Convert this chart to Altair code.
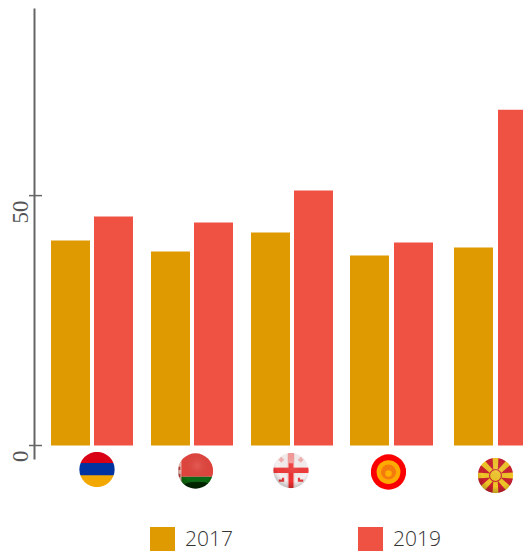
import base64
import altair as alt
import pandas as pd

countries = ["Armenia", "Belarus", "Georgia", "Kyrgyzstan", "North Macedonia"]
values_2017 = [41, 38.8, 42.6, 38, 39.6]
values_2019 = [45.8, 44.6, 51, 40.6, 67.2]
series = ["2017", "2019"]
tick_values = [0, 50]

# layout nudges (pixels) of the original, which is not evenly spaced
bar_dx = {"2017": [-21.5, -21.5, -21.5, -22.5, -18.5], "2019": [21.5, 21.5, 21.5, 21.5, 25.5]}
flag_dx = [5, 3.5, -1, -3.5, 3.5]
flag_dy = [24, 25.5, 25, 26.5, 30]


def svg_uri(body):
    svg = (
        '<svg xmlns="http://www.w3.org/2000/svg" width="72" height="72" viewBox="0 0 100 100">'
        '<defs><clipPath id="c"><circle cx="50" cy="50" r="49"/></clipPath>'
        '<filter id="b"><feGaussianBlur stdDeviation="1.6"/></filter>'
        '<radialGradient id="g" cx="55%" cy="35%" r="65%"><stop offset="0" stop-color="#fff" stop-opacity=".12"/>'
        '<stop offset=".7" stop-color="#000" stop-opacity="0"/><stop offset="1" stop-color="#000" stop-opacity=".22"/>'
        '</radialGradient></defs>'
        '<g clip-path="url(#c)"><g filter="url(#b)">' + body + "</g></g></svg>"
    )
    return "data:image/svg+xml;base64," + base64.b64encode(svg.encode()).decode()


rays = "".join(
    f'<polygon points="45,50 55,50 59,-10 41,-10" fill="#f0c528" transform="rotate({a} 50 50)"/>'
    for a in range(0, 360, 45)
)
shade = '<rect width="100" height="100" fill="url(#g)"/>'
flag_bodies = [
    '<rect width="100" height="34" fill="#d90012"/><rect y="32" width="100" height="36" fill="#0033a0"/>'
    '<rect y="66" width="100" height="34" fill="#f2a800"/>',
    '<rect width="100" height="66" fill="#e0443c"/><rect y="66" width="100" height="34" fill="#0f6a12"/>'
    '<rect width="11" height="100" fill="#e8b8b0"/>'
    '<rect x="3" y="18" width="5" height="9" fill="#b84040"/><rect x="3" y="38" width="5" height="9" fill="#b84040"/>'
    '<rect x="3" y="58" width="5" height="9" fill="#b84040"/><rect x="3" y="76" width="5" height="9" fill="#b84040"/>'
    '<ellipse cx="55" cy="102" rx="55" ry="22" fill="#021f04" opacity=".85"/>' + shade,
    '<rect width="100" height="100" fill="#f7f0f0"/><rect x="41" width="18" height="100" fill="#f79a9a"/>'
    '<rect x="44" y="30" width="12" height="70" fill="#ef3030"/>'
    '<rect y="42" width="100" height="15" fill="#ef3a3a"/>'
    '<path d="M16 20h14M23 13v14M70 20h14M77 13v14" stroke="#f3b0b0" stroke-width="6"/>'
    '<path d="M16 78h12v-8M84 78h-12v-8" stroke="#e83a3a" stroke-width="6" fill="none"/>' + shade,
    '<rect width="100" height="100" fill="#fb0000"/><circle cx="50" cy="50" r="33" fill="#ffaa00"/>'
    '<circle cx="50" cy="50" r="21" fill="#f57a10"/><circle cx="50" cy="54" r="9" fill="#ffb000"/>',
    '<rect width="100" height="100" fill="#c9202f"/>' + rays +
    '<circle cx="50" cy="50" r="18" fill="#c9202f"/>'
    '<circle cx="50" cy="50" r="15" fill="#f0c528"/>' + shade,
]
flag_urls = [svg_uri(b) for b in flag_bodies]

bars = pd.DataFrame(
    {
        "country": countries * 2,
        "series": ["2017"] * 5 + ["2019"] * 5,
        "value": values_2017 + values_2019,
    }
)
flags = pd.DataFrame({"country": countries, "url": flag_urls})

x_scale = alt.Scale(domain=countries, range=[0, 516], paddingInner=0.18, paddingOuter=0.17)
y_scale = alt.Scale(domain=[-2.7, 87.54], nice=False, zero=False)
color_scale = alt.Scale(domain=series, range=["#DE9A00", "#EF5242"])

GRAY = "#666666"
FONT = "Open Sans"

layers = []
for s in series:
    for i, c in enumerate(countries):
        layers.append(
            alt.Chart(bars[(bars.country == c) & (bars.series == s)])
            .mark_bar(width=39, xOffset=bar_dx[s][i])
            .encode(
                x=alt.X("country:N", scale=x_scale, axis=None, sort=countries),
                y=alt.Y(
                    "value:Q",
                    scale=y_scale,
                    axis=alt.Axis(
                        values=tick_values,
                        title=None,
                        grid=False,
                        ticks=False,
                        domainColor=GRAY,
                        domainWidth=2,
                        labelAngle=270,
                        labelAlign="right",
                        labelBaseline="bottom",
                        labelPadding=2,
                        labelOffset=4.5,
                        labelFont="Liberation Sans Narrow",
                        labelFontSize=23,
                        labelColor="#555555",
                    ),
                ),
                color=alt.Color(
                    "series:N",
                    scale=color_scale,
                    legend=alt.Legend(
                        title=None,
                        orient="none",
                        direction="horizontal",
                        columns=2,
                        legendX=116,
                        legendY=519,
                        padding=0,
                        symbolType="square",
                        symbolSize=625,
                        symbolStrokeWidth=0,
                        symbolOpacity=1,
                        labelFont=FONT,
                        labelFontSize=21,
                        labelFontWeight=300,
                        labelColor="#333333",
                        labelOffset=10,
                        columnPadding=125,
                    ),
                ),
            )
        )

ticks = (
    alt.Chart(pd.DataFrame({"tick": tick_values}))
    .mark_rule(color=GRAY, strokeWidth=1.5)
    .encode(y=alt.Y("tick:Q", scale=y_scale), x=alt.value(-5), x2=alt.value(8))
)
layers.append(ticks)

for i, c in enumerate(countries):
    layers.append(
        alt.Chart(flags[flags.country == c])
        .mark_image(width=36, height=36, xOffset=flag_dx[i], yOffset=flag_dy[i])
        .encode(
            x=alt.X("country:N", scale=x_scale, axis=None, sort=countries),
            y=alt.Y("base:Q", scale=y_scale),
            url="url:N",
        )
        .transform_calculate(base="0")
    )

chart = (
    alt.layer(*layers)
    .properties(
        width=489,
        height=451,
        autosize=alt.AutoSizeParams(type="none"),
        padding={"left": 26, "top": 0, "right": 0, "bottom": 100},
    )
    .configure_view(stroke=None)
)

chart.save("out.html", embed_options={"renderer": "svg", "actions": False})
